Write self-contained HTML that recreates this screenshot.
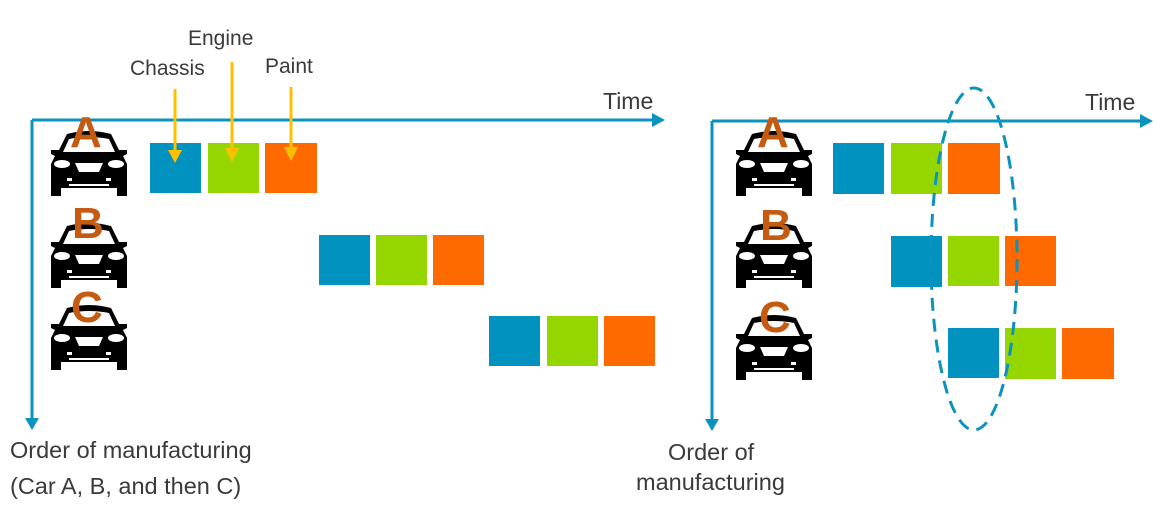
<!DOCTYPE html>
<html><head><style>
body{margin:0;background:#fff;width:1160px;height:530px;overflow:hidden;position:relative;font-family:"Liberation Sans",sans-serif}
.t{position:absolute;color:#3a3a3a;font-size:21px;white-space:nowrap}
.L{position:absolute;color:#c55a11;font-weight:bold;font-size:44px;line-height:44px}
</style></head><body>
<svg width="1160" height="530" style="position:absolute;left:0;top:0">
<defs>
<g id="car">
<path d="M6 26 L2 24 L2 20 L10 20 L18 4 Q40 -2 62 4 L70 20 L78 20 L78 24 L74 26 L78 34 L78 66 L68 66 L68 58 L12 58 L12 66 L2 66 L2 34 Z" fill="#000"/>
<path d="M20 9 Q40 5 60 9 L66 22 L14 22 Z" fill="#fff"/>
<path d="M26 33 L54 33 L50 42 L30 42 Z" fill="#fff"/>
<ellipse cx="13" cy="34" rx="8" ry="4" fill="#fff"/>
<ellipse cx="67" cy="34" rx="8" ry="4" fill="#fff"/>
<rect x="18" y="48" width="5" height="3" fill="#fff"/>
<rect x="57" y="48" width="5" height="3" fill="#fff"/>
<rect x="20" y="54" width="40" height="2" fill="#fff"/>
</g>
</defs>
<g stroke="#0a93bf" stroke-width="3" fill="none">
<path d="M32 120 H655 M32 120 V420"/>
<path d="M712 121 H1145 M712 121 V422"/>
</g>
<g fill="#0a93bf">
<path d="M665 120 L652 113 L652 127 Z"/><path d="M32 430 L25 418 L39 418 Z"/>
<path d="M1153 121 L1140 114 L1140 128 Z"/><path d="M712 431 L705 419 L719 419 Z"/>
</g>
<use href="#car" x="49" y="130"/>
<use href="#car" x="49" y="222"/>
<use href="#car" x="49" y="304"/>
<use href="#car" x="734" y="130"/>
<use href="#car" x="734" y="222"/>
<use href="#car" x="734" y="314"/>
<g>
<rect x="150" y="143" width="51" height="50" fill="#0192bf"/><rect x="208" y="143" width="51" height="50" fill="#96d600"/><rect x="265" y="143" width="52" height="50" fill="#ff6a00"/>
<rect x="319" y="235" width="51" height="50" fill="#0192bf"/><rect x="376" y="235" width="51" height="50" fill="#96d600"/><rect x="433" y="235" width="51" height="50" fill="#ff6a00"/>
<rect x="489" y="316" width="51" height="50" fill="#0192bf"/><rect x="547" y="316" width="51" height="50" fill="#96d600"/><rect x="604" y="316" width="51" height="50" fill="#ff6a00"/>
<rect x="833" y="143" width="51" height="51" fill="#0192bf"/><rect x="891" y="143" width="51" height="51" fill="#96d600"/><rect x="948" y="143" width="52" height="51" fill="#ff6a00"/>
<rect x="891" y="236" width="51" height="51" fill="#0192bf"/><rect x="948" y="236" width="51" height="50" fill="#96d600"/><rect x="1005" y="236" width="51" height="50" fill="#ff6a00"/>
<rect x="948" y="328" width="51" height="50" fill="#0192bf"/><rect x="1005" y="328" width="51" height="51" fill="#96d600"/><rect x="1062" y="328" width="52" height="51" fill="#ff6a00"/>
</g>
<g stroke="#ffc000" stroke-width="3">
<path d="M175 89 V152 M232 62 V152 M291 87 V150"/>
</g>
<g fill="#ffc000">
<path d="M168 150 L182 150 L175 163 Z"/><path d="M225 148 L239 148 L232 162 Z"/><path d="M284 147 L298 147 L291 161 Z"/>
</g>
<ellipse cx="974" cy="259" rx="43" ry="171" fill="none" stroke="#0a93bf" stroke-width="3" stroke-dasharray="13 8"/>
</svg>
<div class="L" style="left:70px;top:111px">A</div>
<div class="L" style="left:72px;top:202px">B</div>
<div class="L" style="left:71px;top:286px">C</div>
<div class="L" style="left:757px;top:111px">A</div>
<div class="L" style="left:760px;top:204px">B</div>
<div class="L" style="left:759px;top:296px">C</div>
<div class="t" style="left:130px;top:57px">Chassis</div>
<div class="t" style="left:188px;top:27px">Engine</div>
<div class="t" style="left:265px;top:55px">Paint</div>
<div class="t" style="left:603px;top:88px;font-size:23px">Time</div>
<div class="t" style="left:1085px;top:89px;font-size:23px">Time</div>
<div class="t" style="left:10px;top:437px;font-size:23.5px">Order of manufacturing</div>
<div class="t" style="left:10px;top:473px;font-size:23.5px">(Car A, B, and then C)</div>
<div class="t" style="left:668px;top:439px;font-size:23.5px">Order of</div>
<div class="t" style="left:636px;top:469px;font-size:23.5px">manufacturing</div>
</body></html>
